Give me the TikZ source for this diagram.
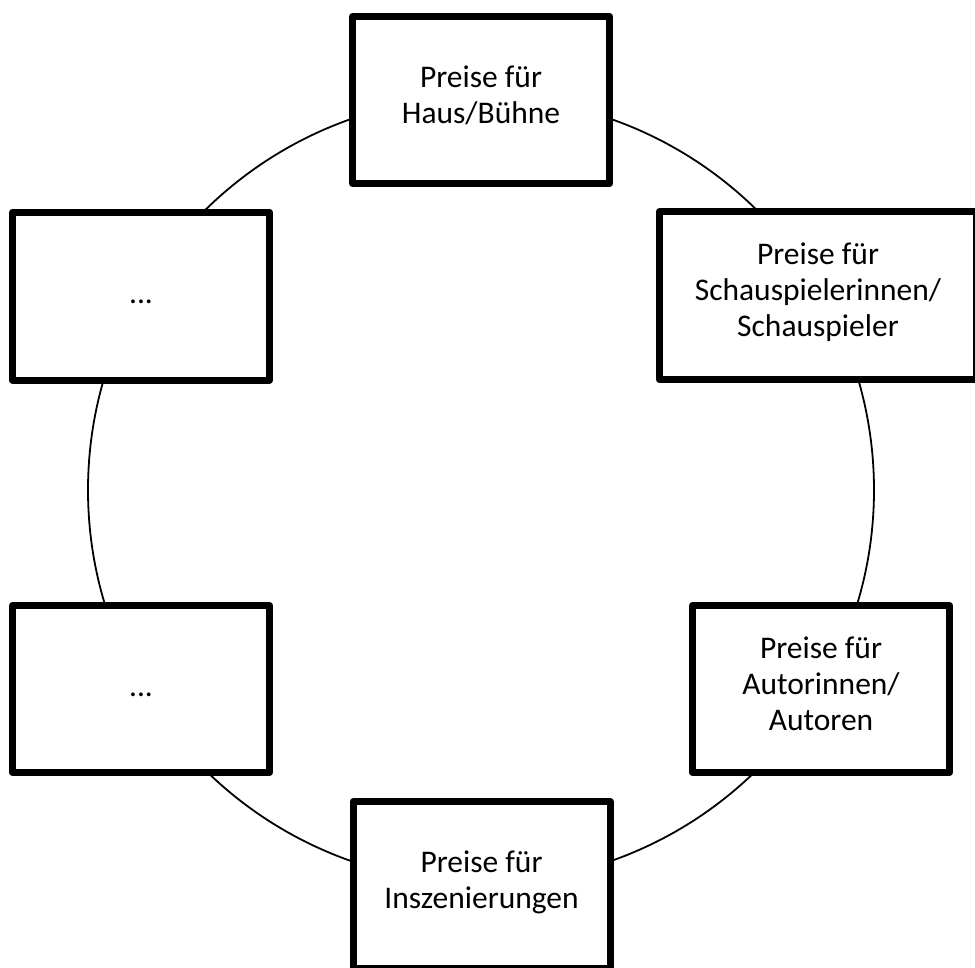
\documentclass[tikz,border=0pt]{standalone}
\usepackage{fontspec}
\setmainfont{Carlito}
\usepackage{tikz}

\tikzset{
    preisbox/.style={draw, line width=7pt, line join=round, fill=white,
        minimum width=257pt, minimum height=167pt, inner sep=0pt, align=center,
        font=\fontsize{31.5}{36}\selectfont,
        execute at begin node=\strut, execute at end node=\strut},
}

\begin{document}
\begin{tikzpicture}[x=1pt, y=-1pt]
    \useasboundingbox (0,0) rectangle (975,967);
    \draw[line width=1.8pt] (481,490) circle (393pt);
    \node[preisbox] (haus) at (481,100) {Preise für\\Haus/Bühne};
    \node[preisbox, minimum width=317pt, minimum height=168pt] (schau) at (818,295.5) {Preise für\\Schauspielerinnen/\\Schauspieler};
    \node[preisbox] (autor) at (821,689) {Preise für\\Autorinnen/\\Autoren};
    \node[preisbox] (insz) at (481.5,885) {Preise für\\Inszenierungen};
    \node[preisbox] (mehrA) at (141,689) {...};
    \node[preisbox, minimum height=168pt] (mehrB) at (141,296) {...};
\end{tikzpicture}
\end{document}
